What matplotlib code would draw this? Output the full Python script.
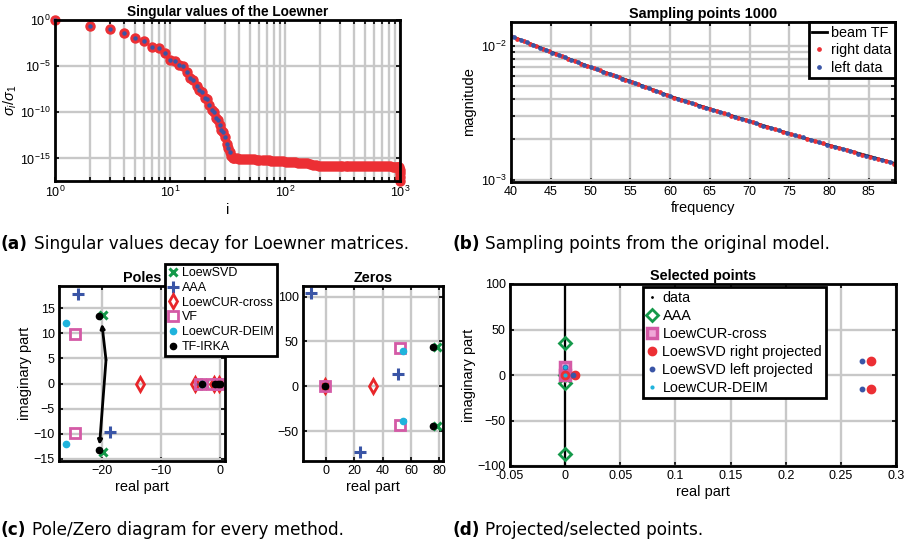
import numpy as np
import matplotlib
matplotlib.use('Agg')
import matplotlib.pyplot as plt
from matplotlib.ticker import FixedLocator, NullLocator, NullFormatter, LogLocator
from matplotlib.text import Annotation

plt.rcParams['font.family'] = ['Liberation Sans', 'DejaVu Sans']
plt.rcParams['mathtext.fontset'] = 'custom'
plt.rcParams['mathtext.rm'] = 'Liberation Sans'
plt.rcParams['mathtext.it'] = 'Liberation Sans:italic'

W, H = 907, 544

# ---------------- (a) singular values of the Loewner matrix
sv_idx = [1, 2, 3, 4, 5, 6, 7, 8, 9, 10, 11, 12, 13, 14, 15, 16, 17, 18, 19, 20,
          21, 22, 23, 24, 25, 26, 27, 28, 29, 30, 31, 32, 33,
          34, 35, 36, 38, 40, 42, 45, 48, 51, 54, 57, 60, 64, 68, 72, 76, 81, 86,
          91, 97, 103, 109, 116, 123, 130, 138, 147, 156, 165, 175, 186, 197, 209,
          222, 236, 250, 265, 281, 298, 316, 336, 356, 378, 401, 425, 451, 478,
          507, 538, 571, 605, 642, 681, 722, 766, 812, 861, 913, 950, 970, 985,
          992, 996, 999, 1000]
sv_val = [1.0, 2.24e-1, 9.8e-2, 3.9e-2, 1.02e-2, 5.6e-3, 1.26e-3, 9.1e-4, 2.8e-4,
          5.2e-5, 3.2e-5, 1.38e-5, 1.0e-5, 2.2e-6, 4.6e-7, 3.5e-7, 7.9e-8, 2.5e-8,
          1.48e-8, 3.3e-9, 2.5e-9, 6.3e-10, 2.0e-10, 1.0e-10, 2.5e-11, 1.6e-11,
          4.0e-12, 1.26e-12, 7.9e-13, 2.0e-13, 4.0e-14, 1.26e-14, 5.0e-15,
          2.0e-15, 1.26e-15, 1.12e-15, 1.0e-15, 9.5e-16, 9.1e-16, 8.7e-16, 8.3e-16,
          7.9e-16, 7.8e-16, 7.4e-16, 7.1e-16, 6.8e-16, 6.5e-16, 6.3e-16, 5.9e-16,
          5.6e-16, 5.4e-16, 5.0e-16, 4.8e-16, 4.6e-16, 4.4e-16, 4.1e-16, 3.8e-16,
          3.6e-16, 3.4e-16, 3.2e-16, 2.9e-16, 2.5e-16, 2.2e-16, 1.86e-16, 1.7e-16,
          1.62e-16, 1.58e-16, 1.55e-16, 1.54e-16, 1.52e-16, 1.5e-16, 1.5e-16,
          1.48e-16, 1.47e-16, 1.46e-16, 1.45e-16, 1.45e-16, 1.44e-16, 1.43e-16,
          1.42e-16, 1.42e-16, 1.41e-16, 1.4e-16, 1.4e-16, 1.39e-16, 1.38e-16,
          1.37e-16, 1.36e-16, 1.35e-16, 1.34e-16, 1.33e-16, 1.3e-16, 1.25e-16,
          1.1e-16, 6e-17, 2.5e-17, 1.0e-17, 3.6e-18]
n_left_sv = 33  # second (blue) set only shows for the leading values

# ---------------- (b) sampling points
tf_freq = [40, 45, 50, 55, 60, 65, 70, 75, 80, 85, 88.3]
tf_mag = [0.01192, 0.00907, 0.00697, 0.00546, 0.00422, 0.00339, 0.00274,
          0.00221, 0.00181, 0.00150, 0.00132]
right_freq = [40.0, 40.8, 41.6, 42.4, 43.2, 44.0, 44.8, 45.6, 46.4, 47.2, 48.0,
              48.8, 49.6, 50.4, 51.2, 52.0, 52.8, 53.6, 54.4, 55.2, 56.0, 56.9,
              57.8, 58.7, 59.6, 60.5, 61.4, 62.3, 63.2, 64.1, 65.0, 65.9, 66.8,
              67.7, 68.6, 69.5, 70.4, 71.3, 72.2, 73.2, 74.2, 75.2, 76.2, 77.2,
              78.2, 79.2, 80.2, 81.2, 82.2, 83.2, 84.2, 85.2, 86.2, 87.2, 88.2]
right_mag = [0.01192, 0.01140, 0.01091, 0.01045, 0.01000, 0.00957, 0.00917,
             0.00878, 0.00841, 0.00807, 0.00775, 0.00742, 0.00711, 0.00684,
             0.00658, 0.00632, 0.00608, 0.00585, 0.00562, 0.00541, 0.00519,
             0.00495, 0.00472, 0.00451, 0.00431, 0.00412, 0.00396, 0.00381,
             0.00366, 0.00352, 0.00339, 0.00326, 0.00314, 0.00302, 0.00291,
             0.00280, 0.00270, 0.00259, 0.00249, 0.00239, 0.00229, 0.00220,
             0.00211, 0.00203, 0.00195, 0.00187, 0.00180, 0.00173, 0.00166,
             0.00160, 0.00154, 0.00149, 0.00143, 0.00137, 0.00132]
left_freq = [40.4, 41.2, 42.0, 42.8, 43.6, 44.4, 45.2, 46.0, 46.8, 47.6, 48.4,
             49.2, 50.0, 50.8, 51.6, 52.4, 53.2, 54.0, 54.8, 55.6, 56.45, 57.35,
             58.25, 59.15, 60.05, 60.95, 61.85, 62.75, 63.65, 64.55, 65.45,
             66.35, 67.25, 68.15, 69.05, 69.95, 70.85, 71.75, 72.7, 73.7, 74.7,
             75.7, 76.7, 77.7, 78.7, 79.7, 80.7, 81.7, 82.7, 83.7, 84.7, 85.7,
             86.7, 87.7]
left_mag = [0.01166, 0.01115, 0.01068, 0.01022, 0.00978, 0.00937, 0.00897,
            0.00859, 0.00824, 0.00791, 0.00758, 0.00726, 0.00697, 0.00671,
            0.00645, 0.00620, 0.00596, 0.00573, 0.00551, 0.00530, 0.00507,
            0.00483, 0.00461, 0.00441, 0.00421, 0.00404, 0.00388, 0.00373,
            0.00359, 0.00345, 0.00332, 0.00320, 0.00308, 0.00296, 0.00285,
            0.00275, 0.00264, 0.00254, 0.00244, 0.00234, 0.00224, 0.00215,
            0.00207, 0.00199, 0.00191, 0.00183, 0.00176, 0.00170, 0.00163,
            0.00157, 0.00151, 0.00146, 0.00140, 0.00135]

# ---------------- (c) poles / zeros per method
methods = ['LoewSVD', 'AAA', 'LoewCUR-cross', 'VF', 'LoewCUR-DEIM', 'TF-IRKA']
poles_re = {'LoewSVD': [-19.95, -19.95, -2.7, -0.5],
            'AAA': [-24.2, -18.8, -3.3],
            'LoewCUR-cross': [-13.6, -4.2, -1.0, -0.2],
            'VF': [-24.7, -24.7, -3.4, -1.4, -0.1],
            'LoewCUR-DEIM': [-26.2, -26.2, -3.1],
            'TF-IRKA': [-20.6, -20.6, -3.0, -0.8, -0.4, -0.05]}
poles_im = {'LoewSVD': [13.55, -13.57, 0, 0],
            'AAA': [17.8, -9.6, 0],
            'LoewCUR-cross': [0, 0, 0, 0],
            'VF': [9.85, -9.9, 0, 0, 0],
            'LoewCUR-DEIM': [12.0, -12.0, 0],
            'TF-IRKA': [13.35, -13.3, 0, 0, 0, 0]}
zeros_re = {'LoewSVD': [78.1, 78.1],
            'AAA': [-10.6, 50.6, 24.0],
            'LoewCUR-cross': [33.4, -0.7],
            'VF': [52.2, 52.2, -0.7],
            'LoewCUR-DEIM': [54.6, 54.6],
            'TF-IRKA': [75.7, 75.7, -0.7]}
zeros_im = {'LoewSVD': [43.9, -44.0],
            'AAA': [104.7, 13.4, -74.0],
            'LoewCUR-cross': [0, 0],
            'VF': [43.2, -42.8, 0],
            'LoewCUR-DEIM': [39.1, -39.3],
            'TF-IRKA': [43.9, -43.9, 0]}
arrow_from = (-19.4, 4.7)
arrow_to = [(-20.1, 11.9), (-20.5, -12.2)]

# ---------------- (d) selected / projected points
sel_data_re = [0, 0]
sel_data_im = [-100, 100]
sel_aaa_re = [0, 0, 0, 0]
sel_aaa_im = [35.4, 0, -8.6, -86.3]
sel_cross_re = [0, 0]
sel_cross_im = [9, 0.5]
sel_right_re = [0, 0.0085, 0.277, 0.277]
sel_right_im = [0, 0, 15, -15]
sel_left_re = [0.0075, 0.2695, 0.2695, 0]
sel_left_im = [0, 15, -15, 9]
sel_deim_re = [0, 0]
sel_deim_im = [9, 0]

red = '#ec2f34'
blue = '#3a55a6'
green = '#14994a'
magenta = '#d45aa6'
cyan = '#1fb3dc'
grid_c = '#c8c8c8'

styles = {'LoewSVD': dict(marker='x', color=green, ms=6, mew=2.2, ls='none'),
          'AAA': dict(marker='+', color=blue, ms=8, mew=2.2, ls='none'),
          'LoewCUR-cross': dict(marker='d', color='#e8262a', mfc='none', ms=7, mew=2, ls='none'),
          'VF': dict(marker='s', color=magenta, mfc='none', ms=7, mew=2, ls='none'),
          'LoewCUR-DEIM': dict(marker='o', color=cyan, ms=4.5, ls='none'),
          'TF-IRKA': dict(marker='o', color='k', ms=4.5, ls='none')}


def px_axes(fig, x0, y0, x1, y1):
    return fig.add_axes([x0 / W, 1 - y1 / H, (x1 - x0) / W, (y1 - y0) / H])


def style(ax, minor=False):
    for s in ax.spines.values():
        s.set_linewidth(2)
    ax.tick_params(which='both', direction='in', top=True, right=True,
                   width=1.2, length=3, labelsize=9, pad=3)
    ax.grid(True, which='major', color=grid_c, lw=1.7)
    if minor:
        ax.grid(True, which='minor', color=grid_c, lw=1.7)
    ax.set_axisbelow(True)


def legend_frame(leg):
    fr = leg.get_frame()
    fr.set_linewidth(2)
    fr.set_edgecolor('k')
    fr.set_alpha(1)


fig = plt.figure(figsize=(W / 100, H / 100), dpi=100)

# (a)
ax = px_axes(fig, 55, 20, 400, 181)
ax.set_xscale('log')
ax.set_yscale('log')
ax.plot(sv_idx, sv_val, 'o', color=red, ms=6.5, mec=red, clip_on=False)
ax.plot(sv_idx[:n_left_sv], sv_val[:n_left_sv], 'o', color=blue, ms=2.2,
        mec=blue, clip_on=False)
ax.set_xlim(1, 1000)
ax.set_ylim(min(sv_val), max(sv_val))
ax.yaxis.set_major_locator(FixedLocator([1e-15, 1e-10, 1e-5, 1e0]))
ax.yaxis.set_minor_locator(NullLocator())
ax.xaxis.set_minor_locator(LogLocator(base=10, subs=np.arange(2, 10)))
ax.xaxis.set_minor_formatter(NullFormatter())
style(ax, minor=True)
ax.set_title('Singular values of the Loewner', fontsize=9.8, fontweight='bold', pad=3)
ax.set_xlabel('i', fontsize=10.5, labelpad=2)
ax.set_ylabel(r'$\sigma_i/\sigma_1$', fontsize=10.5, labelpad=1)

# (b)
ax = px_axes(fig, 511, 22, 895, 182)
ax.set_yscale('log')
ax.plot(tf_freq, tf_mag, '-', color='k', lw=2, label='beam TF')
ax.plot(right_freq, right_mag, 'o', color=red, ms=2.4, mec=red, label='right data')
ax.plot(left_freq, left_mag, 'o', color=blue, ms=2.4, mec=blue, label='left data')
ax.set_xlim(40, 88.3)
ax.set_ylim(0.00096, 0.0152)
ax.set_xticks([40, 45, 50, 55, 60, 65, 70, 75, 80, 85])
ax.yaxis.set_major_locator(FixedLocator([1e-3, 1e-2]))
ax.yaxis.set_minor_locator(LogLocator(base=10, subs=np.arange(2, 10)))
ax.yaxis.set_minor_formatter(NullFormatter())
style(ax)
ax.grid(True, which='minor', axis='y', color=grid_c, lw=1.7)
ax.set_title('Sampling points 1000', fontsize=10.4, fontweight='bold', pad=3)
ax.set_xlabel('frequency', fontsize=10.5, labelpad=2)
ax.set_ylabel('magnitude', fontsize=10.5, labelpad=4)
leg = ax.legend(loc='upper right', borderaxespad=0, fontsize=10.4, fancybox=False,
                handlelength=1.0, handletextpad=0.3, borderpad=0.25,
                labelspacing=0.25, markerscale=1.0)
legend_frame(leg)

# (c) poles
ax = px_axes(fig, 59, 286, 225, 461)
for m in methods:
    ax.plot(poles_re[m], poles_im[m], label=m, **styles[m])
for tip in arrow_to:
    ax.annotate('', xy=tip, xytext=arrow_from,
                arrowprops=dict(arrowstyle='-|>', color='k', lw=2,
                                mutation_scale=6, shrinkA=0, shrinkB=0))
ax.set_xlim(-27.4, 0.85)
ax.set_ylim(-15.4, 19.4)
ax.set_xticks([-20, -10, 0])
ax.set_yticks([-15, -10, -5, 0, 5, 10, 15])
style(ax)
ax.set_title('Poles', fontsize=10.4, fontweight='bold', pad=3)
ax.set_xlabel('real part', fontsize=10.5, labelpad=2)
ax.set_ylabel('imaginary part', fontsize=10.5, labelpad=1)
handles, labels = ax.get_legend_handles_labels()
leg = fig.legend(handles, labels, loc='upper left',
                 bbox_to_anchor=(165 / W, 1 - 264 / H), borderaxespad=0,
                 fontsize=9, fancybox=False, handlelength=0.8,
                 handletextpad=0.3, borderpad=0.25, labelspacing=0.22)
legend_frame(leg)

# (c) zeros
ax = px_axes(fig, 303, 286, 443, 461)
for m in methods:
    ax.plot(zeros_re[m], zeros_im[m], **styles[m])
ax.set_xlim(-16.2, 82.6)
ax.set_ylim(-83.5, 112)
ax.set_xticks([0, 20, 40, 60, 80])
ax.set_yticks([-50, 0, 50, 100])
style(ax)
ax.set_title('Zeros', fontsize=10.4, fontweight='bold', pad=3)
ax.set_xlabel('real part', fontsize=10.5, labelpad=2)

# (d)
ax = px_axes(fig, 510, 284, 896, 466)
ax.plot(sel_data_re, sel_data_im, '-', color='k', lw=1.6)
ax.plot(sel_data_re, sel_data_im, '.', color='k', ms=2, label='data')
ax.plot(sel_aaa_re, sel_aaa_im, 'D', color=green, mfc='none', mew=2, ms=6.5, label='AAA')
ax.plot(sel_cross_re, sel_cross_im, 's', color=magenta, mfc='#f0a8d8', mew=2.5, ms=6.5,
        label='LoewCUR-cross')
ax.plot(sel_right_re, sel_right_im, 'o', color=red, ms=6, label='LoewSVD right projected')
ax.plot(sel_left_re, sel_left_im, 'o', color=blue, ms=3.2, label='LoewSVD left projected')
ax.plot(sel_deim_re, sel_deim_im, 'o', color=cyan, ms=2, label='LoewCUR-DEIM')
ax.set_xlim(-0.05, 0.3)
ax.set_ylim(-100, 100)
ax.set_xticks([-0.05, 0, 0.05, 0.1, 0.15, 0.2, 0.25, 0.3])
ax.set_xticklabels(['-0.05', '0', '0.05', '0.1', '0.15', '0.2', '0.25', '0.3'])
ax.set_yticks([-100, -50, 0, 50, 100])
style(ax)
ax.set_title('Selected points', fontsize=10.4, fontweight='bold', pad=3)
ax.set_xlabel('real part', fontsize=10.5, labelpad=2)
ax.set_ylabel('imaginary part', fontsize=10.5, labelpad=1)
leg = ax.legend(loc='upper left', bbox_to_anchor=(643 / W, 1 - 287 / H),
                bbox_transform=fig.transFigure, borderaxespad=0, fontsize=10.4,
                fancybox=False, handlelength=0.8, handletextpad=0.3,
                borderpad=0.25, labelspacing=0.28)
legend_frame(leg)

# captions
captions = [(1, 249, '(a)', 'Singular values decay for Loewner matrices.'),
            (452, 249, '(b)', 'Sampling points from the original model.'),
            (1, 535, '(c)', 'Pole/Zero diagram for every method.'),
            (452, 535, '(d)', 'Projected/selected points.')]
for x, y, tag, txt in captions:
    t = fig.text(x / W, 1 - y / H, tag, fontsize=12.2, fontweight='bold',
                 family='DejaVu Sans', ha='left', va='baseline')
    fig.add_artist(Annotation(txt, xy=(1, 0), xycoords=t, xytext=(4, 0),
                              textcoords='offset points', fontsize=12.2,
                              family='DejaVu Sans', ha='left', va='bottom'))

fig.savefig('out.png', dpi=100)
